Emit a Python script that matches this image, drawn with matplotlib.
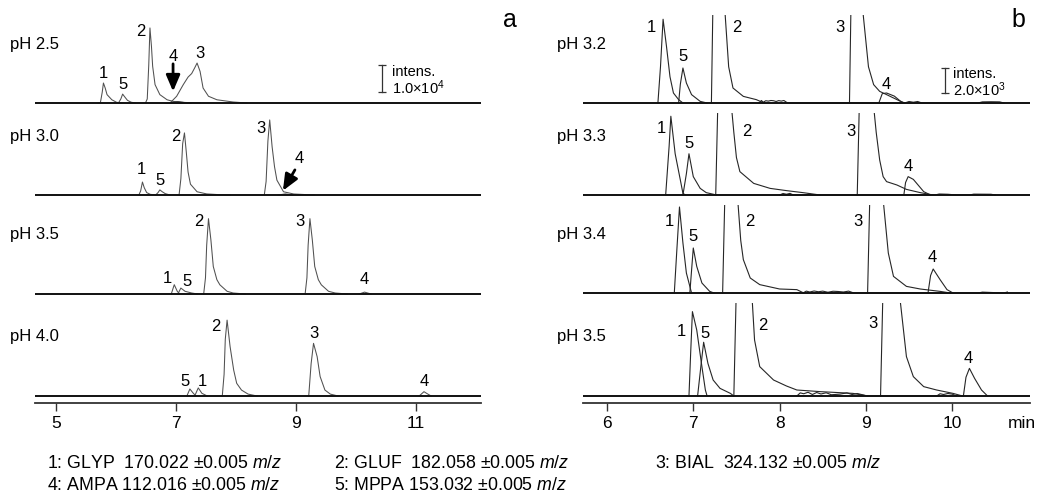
import matplotlib.pyplot as plt

plt.rcParams['font.family'] = ['Liberation Sans', 'DejaVu Sans']
plt.rcParams['mathtext.fontset'] = 'custom'
plt.rcParams['mathtext.rm'] = 'Liberation Sans'
plt.rcParams['mathtext.it'] = 'Liberation Sans:italic'

W, H = 1040, 493

# ---------------- panel a (intensity units, time in min) ----------------
a_ph = ['pH 2.5', 'pH 3.0', 'pH 3.5', 'pH 4.0']

a_ph25 = {
    1: ([5.70, 5.74, 5.77, 5.79, 5.82, 5.85, 5.93, 6.01, 6.10],
        [0, 200, 4000, 7400, 5500, 3100, 1200, 250, 0]),
    5: ([6.04, 6.08, 6.11, 6.14, 6.19, 6.25, 6.32],
        [0, 1500, 3300, 2400, 1000, 300, 0]),
    2: ([6.49, 6.52, 6.545, 6.565, 6.59, 6.61, 6.65, 6.73, 6.85, 6.95, 7.15, 7.40],
        [0, 1500, 14000, 27800, 21000, 13600, 6800, 3100, 1200, 600, 200, 0]),
    3: ([6.90, 7.01, 7.12, 7.20, 7.26, 7.31, 7.35, 7.40, 7.45, 7.54, 7.68, 7.95, 8.18],
        [0, 2500, 6800, 9600, 10900, 13000, 14800, 11700, 5550, 2500, 1200, 370, 0]),
}
a_ph25_p4 = ([6.80, 6.95, 7.02, 7.10, 7.25], [0, 500, 700, 500, 0])
a_ph25_lab = {1: (5.79, 11100), 5: (6.11, 6800), 2: (6.41, 26500), 4: (6.95, 17300), 3: (7.39, 18500)}

a_ph30 = {
    1: ([6.38, 6.41, 6.44, 6.47, 6.51, 6.57, 6.66], [0, 1500, 4800, 2700, 900, 250, 0]),
    5: ([6.66, 6.70, 6.73, 6.77, 6.82, 6.90], [0, 900, 1900, 1200, 500, 0]),
    2: ([7.05, 7.08, 7.11, 7.14, 7.17, 7.20, 7.24, 7.35, 7.51, 7.70, 7.90],
        [0, 6000, 19000, 23000, 16000, 8500, 4000, 1200, 400, 150, 0]),
    3: ([8.47, 8.50, 8.53, 8.56, 8.60, 8.64, 8.68, 8.79, 8.96, 9.30],
        [0, 5000, 20000, 27800, 17900, 10500, 5500, 1200, 370, 0]),
    4: ([8.70, 8.82, 8.95], [0, 400, 0]),
}
a_ph30_lab = {1: (6.43, 9300), 5: (6.73, 5550), 2: (6.99, 21600), 3: (8.42, 24700), 4: (9.05, 13600)}

a_ph35 = {
    1: ([6.92, 6.97, 7.02, 7.06], [0, 3450, 1000, 0]),
    5: ([7.03, 7.08, 7.15, 7.26, 7.36], [0, 2200, 1000, 370, 0]),
    2: ([7.46, 7.49, 7.51, 7.54, 7.58, 7.62, 7.68, 7.73, 7.85, 7.95, 8.15],
        [0, 6000, 18000, 27900, 20100, 10200, 5300, 3400, 1000, 370, 0]),
    3: ([9.15, 9.18, 9.20, 9.23, 9.27, 9.31, 9.37, 9.42, 9.54, 9.65, 9.85],
        [0, 6000, 18000, 27900, 20000, 10200, 5300, 3400, 1000, 370, 0]),
    4: ([10.05, 10.14, 10.25], [0, 700, 0]),
}
a_ph35_lab = {1: (6.86, 5900), 5: (7.19, 4700), 2: (7.38, 26900), 3: (9.07, 26900), 4: (10.14, 5300)}

a_ph40 = {
    5: ([7.18, 7.23, 7.28, 7.33], [0, 2600, 1200, 0]),
    1: ([7.31, 7.37, 7.43, 7.52], [0, 3000, 1000, 0]),
    2: ([7.77, 7.80, 7.82, 7.85, 7.90, 7.96, 8.01, 8.09, 8.20, 8.35],
        [0, 8000, 21000, 28100, 18300, 9600, 4700, 2200, 700, 0]),
    3: ([9.21, 9.25, 9.29, 9.35, 9.40, 9.48, 9.57, 9.70],
        [0, 12000, 19500, 14600, 7200, 2200, 700, 0]),
    4: ([11.05, 11.13, 11.18, 11.25], [0, 1600, 900, 0]),
}
a_ph40_lab = {5: (7.15, 5300), 1: (7.44, 5300), 2: (7.67, 25700), 3: (9.29, 23200), 4: (11.14, 5300)}

# ---------------- panel b ----------------
b_ph = ['pH 3.2', 'pH 3.3', 'pH 3.4', 'pH 3.5']

b_ph32 = {
    1: ([6.59, 6.62, 6.65, 6.69, 6.73, 6.77, 6.83, 6.88], [0, 2900, 6700, 4500, 2100, 800, 270, 0]),
    5: ([6.83, 6.85, 6.88, 6.92, 6.98, 7.08, 7.16], [0, 1500, 2800, 1600, 670, 130, 0]),
    2: ([7.21, 7.23, 7.27, 7.32, 7.37, 7.41, 7.46, 7.58, 7.73, 7.82],
        [0, 9000, 16000, 13000, 7000, 2900, 1200, 530, 270, 0]),
    3: ([8.81, 8.83, 8.87, 8.92, 8.97, 9.03, 9.09, 9.16, 9.24, 9.36, 9.44],
        [0, 9000, 16000, 13000, 7000, 2900, 1470, 930, 670, 270, 0]),
    4: ([9.15, 9.19, 9.24, 9.33, 9.40, 9.45], [0, 750, 800, 550, 150, 0]),
    'n': ([7.76, 7.79, 7.81, 7.84, 7.87, 7.90, 7.93, 7.96, 7.99, 8.02, 8.05, 8.08, 8.10,
           9.45, 9.50, 9.55, 9.60, 9.65, 10.30, 10.35, 10.45, 10.55, 10.60],
          [0, 200, 60, 180, 150, 200, 180, 120, 190, 150, 200, 60, 0,
           0, 120, 60, 120, 0, 0, 90, 100, 90, 0]),
}
b_ph32_lab = {1: (6.52, 6000), 5: (6.88, 3700), 2: (7.51, 6000), 3: (8.70, 6000), 4: (9.24, 1470)}

b_ph33 = {
    1: ([6.68, 6.72, 6.74, 6.79, 6.85, 6.88, 6.91], [0, 3900, 6300, 3300, 1200, 130, 0]),
    5: ([6.88, 6.92, 6.95, 7.00, 7.08, 7.15, 7.27], [0, 1700, 3300, 1470, 530, 190, 0]),
    2: ([7.26, 7.29, 7.33, 7.38, 7.43, 7.47, 7.50, 7.54, 7.70, 7.89, 8.08, 8.27, 8.47],
        [0, 9000, 14000, 12000, 8000, 5000, 3000, 1870, 930, 530, 350, 190, 0]),
    3: ([8.90, 8.93, 8.97, 9.02, 9.07, 9.12, 9.16, 9.20, 9.24, 9.36, 9.47, 9.63, 9.78],
        [0, 9000, 14000, 12000, 8500, 5000, 2800, 1470, 1070, 800, 450, 190, 0]),
    4: ([9.44, 9.46, 9.49, 9.55, 9.67, 9.75], [0, 1000, 1470, 1250, 270, 0]),
    'n': ([8.00, 8.04, 8.08, 8.12, 8.16, 8.30, 8.34, 8.38, 9.80, 9.85, 9.95, 10.05, 10.20, 10.25, 10.45, 10.50],
          [0, 120, 60, 130, 0, 0, 90, 0, 0, 80, 60, 0, 0, 70, 60, 0]),
}
b_ph33_lab = {1: (6.63, 5300), 5: (6.95, 4100), 2: (7.62, 5100), 3: (8.83, 5100), 4: (9.49, 2270)}

b_ph34 = {
    1: ([6.78, 6.81, 6.84, 6.88, 6.92, 6.98], [0, 3500, 6880, 4000, 1600, 0]),
    5: ([6.96, 6.98, 7.00, 7.04, 7.10, 7.19, 7.24], [0, 1800, 3600, 2130, 800, 130, 0]),
    2: ([7.34, 7.37, 7.41, 7.46, 7.52, 7.55, 7.58, 7.66, 7.77, 8.00, 8.20, 8.28],
        [0, 9000, 14000, 12000, 7000, 4200, 2670, 1200, 670, 320, 270, 0]),
    3: ([9.02, 9.05, 9.09, 9.14, 9.20, 9.26, 9.32, 9.47, 9.63, 9.86, 9.98],
        [0, 9000, 14000, 12000, 7500, 3200, 1330, 530, 320, 130, 0]),
    4: ([9.72, 9.75, 9.78, 9.86, 9.94, 10.01], [0, 1400, 1920, 1070, 270, 0]),
    'n': ([8.27, 8.31, 8.35, 8.40, 8.45, 8.50, 8.56, 8.62, 8.68, 8.74, 8.80, 8.86,
           10.30, 10.35, 10.60, 10.64],
          [0, 150, 80, 160, 100, 150, 60, 140, 120, 80, 150, 0, 0, 70, 0, 80]),
}
b_ph34_lab = {1: (6.72, 5700), 5: (7.00, 4500), 2: (7.66, 5700), 3: (8.91, 5700), 4: (9.77, 2800)}

b_ph35 = {
    1: ([6.95, 6.97, 6.99, 7.04, 7.10, 7.14, 7.16], [0, 3500, 6750, 5280, 2350, 480, 0]),
    5: ([7.05, 7.09, 7.12, 7.17, 7.23, 7.31, 7.43, 7.47], [0, 2500, 4300, 2600, 1280, 610, 210, 0]),
    2: ([7.47, 7.50, 7.55, 7.61, 7.68, 7.71, 7.77, 7.93, 8.08, 8.20, 8.47, 8.85, 9.02],
        [0, 9000, 14000, 12000, 8000, 4480, 2350, 1280, 800, 480, 350, 210, 0]),
    3: ([9.17, 9.20, 9.25, 9.32, 9.40, 9.47, 9.55, 9.67, 9.82, 10.01, 10.12],
        [0, 9000, 14000, 12000, 7500, 3150, 1550, 750, 480, 210, 0]),
    4: ([10.13, 10.16, 10.20, 10.26, 10.34, 10.41], [0, 1500, 2210, 1410, 480, 0]),
    'n': ([8.20, 8.24, 8.28, 8.33, 8.38, 8.43, 8.48, 8.54, 8.60, 8.70, 8.78, 8.84, 8.90, 8.96, 9.02,
           9.82, 9.86, 9.90, 9.95, 10.00, 10.05],
          [0, 250, 180, 300, 120, 280, 160, 260, 100, 150, 250, 120, 200, 100, 0,
           0, 180, 120, 200, 150, 0]),
}
b_ph35_lab = {1: (6.86, 5150), 5: (7.14, 5000), 2: (7.81, 5680), 3: (9.08, 5800), 4: (10.19, 3000)}

legend_lines = [
    ['1: GLYP  170.022 \u00b10.005 $\\it{m/z}$', '2: GLUF  182.058 \u00b10.005 $\\it{m/z}$',
     '3: BIAL  324.132 \u00b10.005 $\\it{m/z}$'],
    ['4: AMPA 112.016 \u00b10.005 $\\it{m/z}$', '5: MPPA 153.032 \u00b10.005 $\\it{m/z}$'],
]


def px_rect(x0, x1, y_top, y_bot):
    return [x0 / W, 1 - y_bot / H, (x1 - x0) / W, (y_bot - y_top) / H]


fig = plt.figure(figsize=(W / 100, H / 100), dpi=100)

panels = [
    dict(x_px=(35, 481), xlim=(4.65, 12.08), ticks=[5, 7, 9, 11], ppu=27 / 1.0e4,
         base=[103, 195, 294, 396], ph=a_ph, ph_x=10, color='#505050', lw=0.75,
         strips=[(a_ph25, a_ph25_lab), (a_ph30, a_ph30_lab), (a_ph35, a_ph35_lab), (a_ph40, a_ph40_lab)]),
    dict(x_px=(583, 1030), xlim=(5.722, 10.902), ticks=[6, 7, 8, 9, 10], ppu=25 / 2000,
         base=[103, 195, 293, 396], ph=b_ph, ph_x=557, color='#262626', lw=0.8,
         strips=[(b_ph32, b_ph32_lab), (b_ph33, b_ph33_lab), (b_ph34, b_ph34_lab), (b_ph35, b_ph35_lab)]),
]
axis_y = 403

strip_axes = []
for p in panels:
    axes = []
    for i, (traces, labels) in enumerate(p['strips']):
        b = p['base'][i]
        top = 15 if i == 0 else p['base'][i - 1] + 10
        bot = axis_y if i == 3 else b + 4
        ax = fig.add_axes(px_rect(p['x_px'][0], p['x_px'][1], top, bot))
        ax.set_xlim(*p['xlim'])
        ax.set_ylim(-(bot - b) / p['ppu'], (b - top) / p['ppu'])
        for s in ['top', 'right', 'left']:
            ax.spines[s].set_visible(False)
        ax.set_yticks([])
        ax.patch.set_alpha(0)
        if i < 3:
            ax.spines['bottom'].set_visible(False)
            ax.set_xticks([])
        else:
            ax.spines['bottom'].set_linewidth(1.3)
            ax.spines['bottom'].set_color('#333333')
            ax.set_xticks(p['ticks'])
            ax.tick_params(axis='x', direction='out', length=6, width=1, color='#333333',
                           labelsize=12.5, pad=3)
        ax.axhline(0, color='#111111', lw=1.4, zorder=3)
        for k, (t, y) in traces.items():
            ax.plot(t, y, color=p['color'], lw=p['lw'], zorder=2)
        for k, (t, y) in labels.items():
            ax.text(t, y, str(k), ha='center', va='center', fontsize=12, clip_on=False)
        fig.text(p['ph_x'] / W, 1 - (b - 59) / H, p['ph'][i], ha='left', va='center', fontsize=12)
        axes.append(ax)
    strip_axes.append(axes)

ax_a, ax_b = strip_axes[0], strip_axes[1]

# small AMPA hump at pH 2.5 (filled)
ax_a[0].fill_between(a_ph25_p4[0], 0, a_ph25_p4[1], color='#333333', lw=0.5, zorder=2)

# arrows pointing at peak 4
arrow = dict(arrowstyle='-|>,head_width=0.3,head_length=0.7', lw=2.0, color='black',
             shrinkA=0, shrinkB=0, mutation_scale=14)
ax_a[0].annotate('', xy=(6.95, 4300), xytext=(6.95, 14500), arrowprops=arrow)
ax_a[1].annotate('', xy=(8.78, 1600), xytext=(8.98, 9300), arrowprops=arrow)

# intensity scale bars
for ax, t, y0, y1, tx, lab in [(ax_a[0], 10.43, 4070, 14070, 10.60, '1.0\u00d710$^4$'),
                               (ax_b[0], 9.92, 800, 2800, 10.01, '2.0\u00d710$^3$')]:
    ax.plot([t, t], [y0, y1], color='#333333', lw=0.9)
    ax.plot([t, t], [y0, y1], ls='none', marker='_', ms=6, mew=0.9, color='#333333')
    ax.text(tx, y0 + (y1 - y0) * 0.74, 'intens.', ha='left', va='center', fontsize=10.5)
    ax.text(tx, y0 + (y1 - y0) * 0.15, lab, ha='left', va='center', fontsize=10.5)

fig.text(510 / W, 1 - 20 / H, 'a', ha='center', va='center', fontsize=18)
fig.text(1018 / W, 1 - 20 / H, 'b', ha='center', va='center', fontsize=18)
fig.text(1008 / W, 1 - 423 / H, 'min', ha='left', va='center', fontsize=12.5)

col_x = [47, 334, 655]
row_y = [464, 485]
for r, row in enumerate(legend_lines):
    for c, txt in enumerate(row):
        fig.text(col_x[c] / W, 1 - row_y[r] / H, txt, ha='left', va='center', fontsize=12.8)

fig.savefig('out.png', dpi=100)
